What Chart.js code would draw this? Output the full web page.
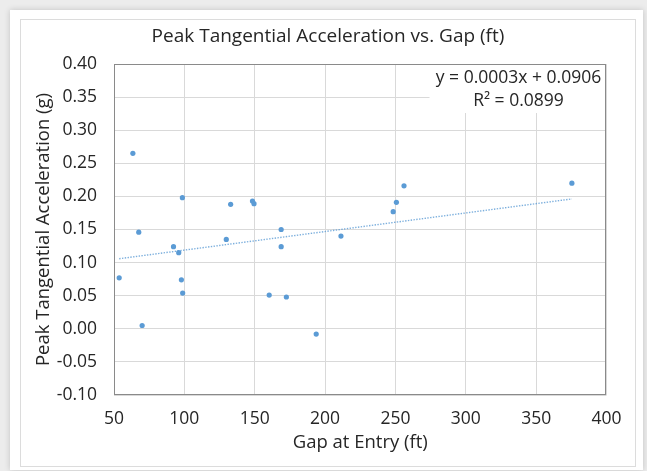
<!DOCTYPE html>
<html>
<head>
<meta charset="utf-8">
<title>Peak Tangential Acceleration vs. Gap</title>
<script src="https://cdn.jsdelivr.net/npm/chart.js@4.4.1/dist/chart.umd.min.js"></script>
<style>
    html, body { margin: 0; padding: 0; }
    body { width: 647px; height: 471px; background: #ececec; position: relative; overflow: hidden; }
    .card { position: absolute; left: 10px; top: 10px; width: 633px; height: 460px; background: #fff; box-shadow: 0 0 6px rgba(0, 0, 0, 0.18); }
    .frame { position: absolute; left: 20px; top: 19px; width: 614px; height: 446px; border: 1px solid #dcdcdc; background: #fff; }
    #accelChart { position: absolute; left: 0; top: 0; }
</style>
</head>
<body>
<div class="card"></div>
<div class="frame"><canvas id="accelChart" width="614" height="446"></canvas></div>
<script>
// Gap at entry (ft) and peak tangential acceleration (g) per run
const gapFt = [53.7, 63.4, 67.6, 70.0, 92.3, 96.0, 97.9, 98.6, 98.8, 129.8, 132.9, 148.4,
               149.5, 160.3, 168.8, 168.8, 172.5, 193.7, 211.3, 248.4, 250.7, 256.1, 375.4];
const peakAccel = [0.077, 0.265, 0.146, 0.005, 0.124, 0.115, 0.074, 0.198, 0.054, 0.135, 0.188, 0.193,
                   0.189, 0.051, 0.150, 0.124, 0.048, -0.008, 0.140, 0.177, 0.191, 0.216, 0.220];

const xTicks = [50, 100, 150, 200, 250, 300, 350, 400];
const yTicks = [-0.10, -0.05, 0.00, 0.05, 0.10, 0.15, 0.20, 0.25, 0.30, 0.35, 0.40];

const trendLabel = ['y = 0.0003x + 0.0906', 'R\u00B2 = 0.0899'];

const BLUE = '#5b9bd5';
const TEXT = '#262626';
const FONT = '"Open Sans", Lato, sans-serif';

// least squares fit for the trendline
function linearFit(xs, ys) {
    const n = xs.length;
    const mx = xs.reduce((a, b) => a + b, 0) / n;
    const my = ys.reduce((a, b) => a + b, 0) / n;
    let sxy = 0, sxx = 0;
    for (let i = 0; i < n; i++) {
        sxy += (xs[i] - mx) * (ys[i] - my);
        sxx += (xs[i] - mx) * (xs[i] - mx);
    }
    const slope = sxy / sxx;
    return { slope: slope, intercept: my - slope * mx };
}

const fit = linearFit(gapFt, peakAccel);
const xMin = Math.min(...gapFt);
const xMax = Math.max(...gapFt);
const points = gapFt.map((x, i) => ({ x: x, y: peakAccel[i] }));
const trendPoints = [
    { x: xMin, y: fit.intercept + fit.slope * xMin },
    { x: xMax, y: fit.intercept + fit.slope * xMax }
];

// plot frame + equation box drawn over the grid
const plotDecor = {
    id: 'plotDecor',
    beforeDatasetsDraw(chart) {
        const { ctx, chartArea: a } = chart;
        ctx.save();
        ctx.fillStyle = '#ffffff';
        ctx.fillRect(a.right - 177, a.top + 1, 176, 48);
        ctx.strokeStyle = '#8a8a8a';
        ctx.lineWidth = 1;
        ctx.strokeRect(Math.round(a.left) + 0.5, Math.round(a.top) + 0.5,
                       Math.round(a.right - a.left) - 1, Math.round(a.bottom - a.top) - 1);
        ctx.fillStyle = TEXT;
        ctx.font = '17.5px ' + FONT;
        ctx.textAlign = 'center';
        ctx.textBaseline = 'middle';
        const cx = a.right - 88;
        ctx.fillText(trendLabel[0], cx, a.top + 14);
        ctx.fillText(trendLabel[1], cx, a.top + 37);
        ctx.restore();
    }
};

Chart.defaults.font.family = FONT;
Chart.defaults.color = TEXT;

new Chart(document.getElementById('accelChart'), {
    type: 'scatter',
    data: {
        datasets: [
            {
                label: 'Peak Tangential Acceleration',
                data: points,
                backgroundColor: BLUE,
                borderColor: BLUE,
                borderWidth: 0,
                pointRadius: 2.6,
                order: 1
            },
            {
                type: 'line',
                label: 'Linear trend',
                data: trendPoints,
                borderColor: 'rgba(91, 155, 213, 0.8)',
                borderWidth: 1.4,
                borderDash: [1.4, 1.4],
                pointRadius: 0,
                fill: false,
                order: 2
            }
        ]
    },
    options: {
        responsive: false,
        animation: false,
        layout: { padding: 0 },
        plugins: {
            legend: { display: false },
            tooltip: { enabled: false },
            title: {
                display: true,
                text: 'Peak Tangential Acceleration vs. Gap (ft)',
                color: TEXT,
                font: { size: 19, weight: 'normal' },
                padding: { top: 5.6, bottom: 15.6 }
            }
        },
        scales: {
            x: {
                type: 'linear',
                min: 50,
                max: 400,
                afterBuildTicks: (scale) => { scale.ticks = xTicks.map(v => ({ value: v })); },
                ticks: { font: { size: 17.5 }, padding: 13.5, color: TEXT, callback: (v) => String(v) },
                grid: { color: '#d9d9d9', drawTicks: false },
                border: { display: false },
                title: {
                    display: true,
                    text: 'Gap at Entry (ft)',
                    color: TEXT,
                    font: { size: 18.5 },
                    padding: { top: 0, bottom: 12 }
                },
                afterFit: (scale) => { scale.height = 71; }
            },
            y: {
                type: 'linear',
                min: -0.10,
                max: 0.40,
                afterBuildTicks: (scale) => { scale.ticks = yTicks.map(v => ({ value: v })); },
                ticks: { font: { size: 17.5 }, padding: 17, color: TEXT, callback: (v) => v.toFixed(2) },
                grid: { color: '#d9d9d9', drawTicks: false },
                border: { display: false },
                title: {
                    display: true,
                    text: 'Peak Tangential Acceleration (g)',
                    color: TEXT,
                    font: { size: 18.5 },
                    padding: { top: 12, bottom: 0 }
                },
                afterFit: (scale) => { scale.width = 93; }
            },
            // empty right-hand strip so the title stays centred on the card
            yGutter: {
                type: 'linear',
                position: 'right',
                display: true,
                ticks: { display: false },
                grid: { display: false, drawTicks: false },
                border: { display: false },
                afterFit: (scale) => { scale.width = 25; }
            }
        }
    },
    plugins: [plotDecor]
});
</script>
</body>
</html>
